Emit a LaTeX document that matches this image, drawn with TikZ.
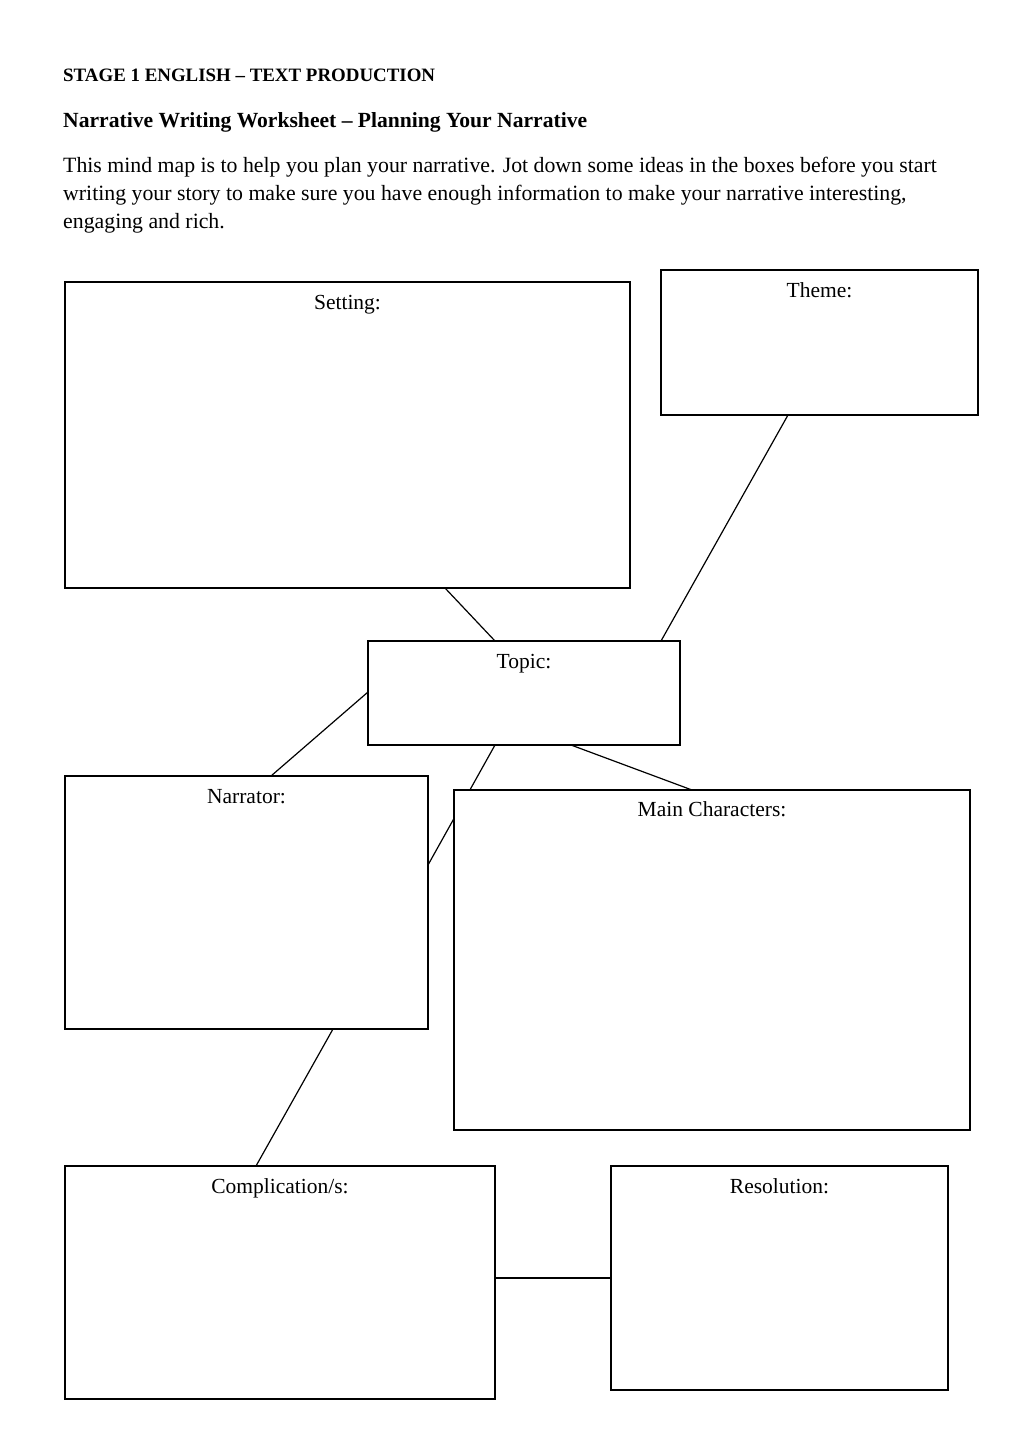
\documentclass[tikz,border=0pt]{standalone}
\usepackage{fontspec}
\setmainfont{Liberation Serif}
\usetikzlibrary{calc,positioning}
\pgfdeclarelayer{bg}
\pgfsetlayers{bg,main}
\begin{document}
\begin{tikzpicture}[x=1pt,y=-1pt,
  box/.style={draw=black, line width=1.2pt, fill=white, rectangle, inner sep=0pt, outer sep=0pt, anchor=north west},
  lbl/.style={anchor=base, inner sep=0pt, font=\fontsize{21.5}{26}\selectfont},
  conn/.style={draw=black, line width=1.2pt},
  txt/.style={anchor=base west, inner sep=0pt},
  body/.style={txt, font=\fontsize{21.8}{28}\selectfont}]
\useasboundingbox (0,0) rectangle (1024,1448);
% header
\node[txt, font=\fontsize{18.9}{24}\selectfont\bfseries] (title) at (63,81) {STAGE 1 ENGLISH – TEXT PRODUCTION};
\node[txt, font=\fontsize{21.6}{26}\selectfont\bfseries] (sub) at (63,127) {Narrative Writing Worksheet – Planning Your Narrative};
\node[body] (intro1) at (63,172) {This mind map is to help you plan your narrative. Jot down some ideas in the boxes before you start};
\node[body] (intro2) at (63,200) {writing your story to make sure you have enough information to make your narrative interesting,};
\node[body] (intro3) at (63,228) {engaging and rich.};
% boxes
\node[box, minimum width=565pt, minimum height=306pt] (set) at (65,282) {};
\node[box, minimum width=317pt, minimum height=145pt] (theme) at (661,270) {};
\node[box, minimum width=312pt, minimum height=104pt] (topic) at (368,641) {};
\node[box, minimum width=363pt, minimum height=253pt] (narr) at (65,776) {};
\node[box, minimum width=516pt, minimum height=340pt] (chars) at (454,790) {};
\node[box, minimum width=430pt, minimum height=233pt] (comp) at (65,1166) {};
\node[box, minimum width=337pt, minimum height=224pt] (res) at (611,1166) {};
% labels
\node[lbl] (lset) at ($(set.north)+(0,27)$) {Setting:};
\node[lbl] (ltheme) at ($(theme.north)+(0,27)$) {Theme:};
\node[lbl] (ltopic) at ($(topic.north)+(0,27)$) {Topic:};
\node[lbl] (lnarr) at ($(narr.north)+(0,27)$) {Narrator:};
\node[lbl] (lchars) at ($(chars.north)+(0,26)$) {Main Characters:};
\node[lbl] (lcomp) at ($(comp.north)+(0,27)$) {Complication/s:};
\node[lbl] (lres) at ($(res.north)+(0,27)$) {Resolution:};
% connectors
\begin{pgfonlayer}{bg}
\draw[conn] ($(set.south west)+(380,0)$) -- ($(topic.north west)+(127,0)$);
\draw[conn] ($(theme.south west)+(127,0)$) -- ($(topic.north west)+(293,0)$);
\draw[conn] ($(topic.north west)+(0,51)$) -- ($(narr.north west)+(206,0)$);
\draw[conn] ($(topic.south west)+(127,0)$) -- ($(narr.north east)+(0,89)$);
\draw[conn] ($(topic.south west)+(203,0)$) -- ($(chars.north west)+(238,0)$);
\draw[conn] ($(narr.south west)+(268,0)$) -- ($(comp.north west)+(191,0)$);
\draw[conn] ($(comp.north east)+(0,112)$) -- ($(res.north west)+(0,112)$);
\end{pgfonlayer}
\end{tikzpicture}
\end{document}
